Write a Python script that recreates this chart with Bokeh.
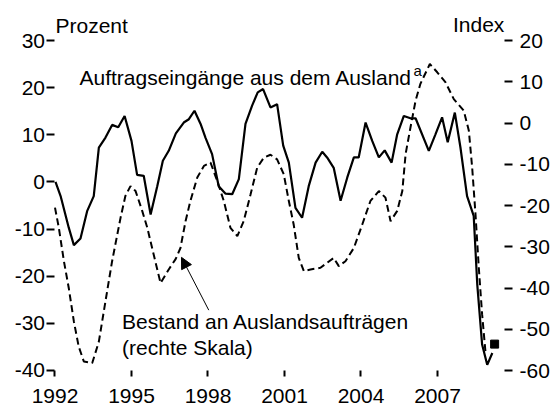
from bokeh.plotting import figure
from bokeh.models import (Range1d, LinearAxis, FixedTicker, Label, Arrow, NormalHead,
                          PrintfTickFormatter)
from bokeh.embed import file_html
from bokeh.resources import INLINE

# ---- data ----
orders_years = [1992.02, 1992.22, 1992.54, 1992.74, 1993.00, 1993.26, 1993.52, 1993.72, 1993.98,
                1994.24, 1994.48, 1994.73, 1995.00, 1995.22, 1995.48, 1995.75, 1996.01, 1996.23,
                1996.46, 1996.74, 1997.05, 1997.25, 1997.47, 1997.71, 1997.90, 1998.16, 1998.42,
                1998.69, 1998.95, 1999.21, 1999.47, 1999.73, 1999.95, 2000.16, 2000.45, 2000.71,
                2000.95, 2001.17, 2001.43, 2001.69, 2001.95, 2002.22, 2002.48, 2002.67, 2002.93,
                2003.20, 2003.46, 2003.72, 2003.91, 2004.18, 2004.44, 2004.70, 2004.93, 2005.20,
                2005.42, 2005.68, 2005.94, 2006.14, 2006.66, 2006.92, 2007.18, 2007.40, 2007.68,
                2007.90, 2008.16, 2008.42, 2008.56, 2008.75, 2008.95, 2009.15]
orders_pct = [0.0, -3.0, -9.7, -13.4, -12.0, -6.2, -3.0, 7.3, 9.4,
              12.1, 11.6, 14.0, 8.7, 1.5, 1.3, -6.9, -0.9, 4.5,
              6.6, 10.3, 12.6, 13.3, 15.1, 12.3, 9.4, 5.9, -0.9,
              -2.5, -2.6, 0.6, 12.3, 16.2, 19.0, 19.7, 15.8, 16.5,
              7.7, 4.1, -5.5, -7.6, -0.9, 4.1, 6.4, 5.2, 3.0,
              -4.0, 0.9, 5.2, 5.2, 12.6, 8.7, 5.2, 6.7, 4.1,
              10.1, 14.0, 13.5, 13.5, 6.6, 10.1, 13.7, 8.4, 14.7,
              7.3, -3.0, -7.2, -21.8, -34.5, -38.8, -36.3]

backlog_years = [1992.00, 1992.15, 1992.35, 1992.54, 1992.74, 1992.93, 1993.13, 1993.46, 1993.72,
                 1993.98, 1994.24, 1994.57, 1994.76, 1994.96, 1995.16, 1995.42, 1995.62, 1995.87,
                 1996.14, 1996.46, 1996.73, 1996.92, 1997.12, 1997.31, 1997.58, 1997.84, 1998.10,
                 1998.36, 1998.62, 1998.88, 1999.15, 1999.40, 1999.67, 1999.93, 2000.19, 2000.45,
                 2000.71, 2000.97, 2001.17, 2001.36, 2001.56, 2001.76, 2002.02, 2002.41, 2002.67,
                 2002.93, 2003.13, 2003.39, 2003.72, 2004.05, 2004.37, 2004.70, 2004.96, 2005.16,
                 2005.42, 2005.62, 2005.75, 2005.94, 2006.14, 2006.33, 2006.70, 2006.99, 2007.31,
                 2007.64, 2008.03, 2008.23, 2008.36, 2008.49, 2008.62, 2008.75, 2008.88]
backlog_index = [-20.5, -25.4, -33.5, -40.0, -48.1, -54.2, -57.8, -58.2, -53.0,
                 -43.2, -33.5, -23.0, -17.7, -15.3, -16.5, -21.3, -25.4, -31.9,
                 -38.8, -35.5, -33.0, -30.3, -23.8, -18.9, -13.2, -10.4, -9.6,
                 -14.0, -18.9, -25.4, -27.4, -23.8, -17.3, -10.8, -8.4, -7.7,
                 -8.8, -12.4, -18.9, -24.6, -32.7, -35.9, -35.5, -35.1, -33.9,
                 -32.7, -34.7, -33.5, -30.3, -24.6, -18.9, -16.5, -18.1, -23.8,
                 -21.3, -16.5, -7.5, -1.1, 5.4, 9.5, 14.3, 12.3, 9.9,
                 5.8, 3.0, -1.9, -10.8, -22.1, -35.1, -46.4, -55.4]

latest_year = [2009.24]
latest_index = [-53.6]

year_ticks = [1992, 1995, 1998, 2001, 2004, 2007]
left_ticks = [-40, -30, -20, -10, 0, 10, 20, 30]
right_ticks = [-60, -50, -40, -30, -20, -10, 0, 10, 20]

FONT = "Liberation Sans"
FS = "21px"

p = figure(width=552, height=406, output_backend="svg", toolbar_location=None,
           x_range=Range1d(1989.863, 2011.510), y_range=Range1d(-47.637, 38.485),
           x_axis_location=None, y_axis_location=None,
           min_border_left=0, min_border_right=0, min_border_top=0, min_border_bottom=0)
p.extra_y_ranges = {"right": Range1d(-68.727, 29.697)}
p.grid.visible = False
p.outline_line_color = None
p.background_fill_color = "white"
p.border_fill_color = "white"

x_axis = LinearAxis(fixed_location=-40)
left_axis = LinearAxis(fixed_location=1992.0)
right_axis = LinearAxis(y_range_name="right", fixed_location=2009.63)
p.add_layout(x_axis, "below")
p.add_layout(left_axis, "left")
p.add_layout(right_axis, "right")

x_axis.ticker = FixedTicker(ticks=year_ticks)
left_axis.ticker = FixedTicker(ticks=left_ticks)
right_axis.ticker = FixedTicker(ticks=right_ticks)
left_axis.formatter = PrintfTickFormatter(format="%d")
right_axis.formatter = PrintfTickFormatter(format="%d")

for ax in [x_axis, left_axis, right_axis]:
    ax.axis_line_color = None
    ax.major_tick_line_color = "black"
    ax.major_tick_line_width = 2
    ax.major_tick_in = 0
    ax.minor_tick_line_color = None
    ax.major_label_text_font = FONT
    ax.major_label_text_font_size = FS
    ax.major_label_text_color = "black"

x_axis.major_tick_out = 6
x_axis.major_label_standoff = 13
left_axis.major_tick_out = 8
left_axis.major_label_standoff = 2
right_axis.major_tick_out = 8
right_axis.major_label_standoff = 7

p.line(orders_years, orders_pct, line_color="black", line_width=2.2)
p.line(backlog_years, backlog_index, line_color="black", line_width=2,
       line_dash="7 4", y_range_name="right")
p.scatter(latest_year, latest_index, marker="square", size=8, color="black",
          y_range_name="right")

def lab(x, y, text, size=FS, align="left"):
    p.add_layout(Label(x=x, y=y, text=text, text_font=FONT, text_font_size=size,
                       text_color="black", text_align=align, text_baseline="alphabetic"))

lab(1992.02, 33.2, "Prozent")
lab(2009.62, 33.4, "Index", align="right")
lab(1992.96, 22.2, "Auftragseingänge aus dem Ausland")
lab(2006.06, 23.6, "a", size="15px")
lab(1994.63, -29.6, "Bestand an Auslandsaufträgen")
lab(1994.63, -35.1, "(rechte Skala)")

p.add_layout(Arrow(end=NormalHead(size=11, fill_color="black", line_color="black"),
                   x_start=1998.03, y_start=-27.2, x_end=1996.96, y_end=-16.0,
                   line_color="black", line_width=1))

open("out.html", "w").write(file_html(p, INLINE))
